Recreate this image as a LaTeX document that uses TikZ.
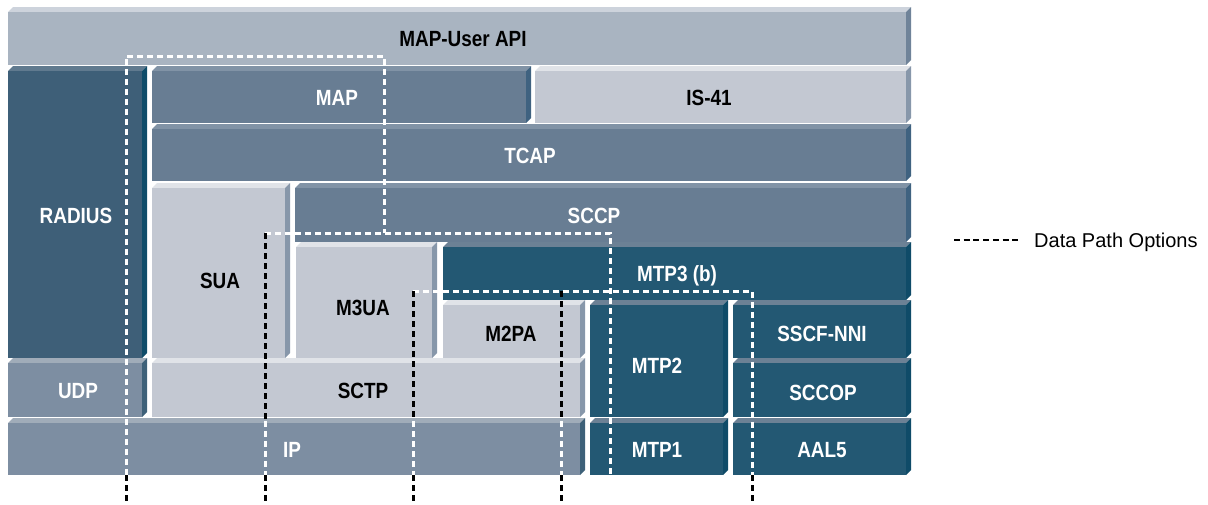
\documentclass[tikz,border=0pt]{standalone}
\usepackage{fontspec}
\setmainfont{Liberation Sans}
\newfontfamily\layerfont[FakeStretch=0.86]{Liberation Sans}

% face / top bevel / side colours of the protocol layers
\definecolor{apiFace}{HTML}{A9B4C1}
\definecolor{apiTop}{HTML}{CDD3DC}
\definecolor{apiSide}{HTML}{6F8399}
\definecolor{radFace}{HTML}{3E5F78}
\definecolor{radTop}{HTML}{607A8F}
\definecolor{radSide}{HTML}{0F4C69}
\definecolor{midFace}{HTML}{687D93}
\definecolor{midTop}{HTML}{8193A6}
\definecolor{midSide}{HTML}{3F6280}
\definecolor{litFace}{HTML}{C3C8D2}
\definecolor{litTop}{HTML}{E0E3E8}
\definecolor{litSide}{HTML}{8797AA}
\definecolor{ipFace}{HTML}{7D8EA2}
\definecolor{ipTop}{HTML}{A0ACB9}
\definecolor{ipSide}{HTML}{3E6179}
\definecolor{mtpFace}{HTML}{235873}
\definecolor{mtpTop}{HTML}{6C8195}
\definecolor{mtpSide}{HTML}{0F4B68}

\tikzset{
  apitop/.style={fill=apiTop}, apiside/.style={fill=apiSide}, apiface/.style={fill=apiFace},
  apitext/.style={text=black},
  radtop/.style={fill=radTop}, radside/.style={fill=radSide}, radface/.style={fill=radFace},
  radtext/.style={text=white},
  midtop/.style={fill=midTop}, midside/.style={fill=midSide}, midface/.style={fill=midFace},
  midtext/.style={text=white},
  littop/.style={fill=litTop}, litside/.style={fill=litSide}, litface/.style={fill=litFace},
  littext/.style={text=black},
  iptop/.style={fill=ipTop}, ipside/.style={fill=ipSide}, ipface/.style={fill=ipFace},
  iptext/.style={text=white},
  mtptop/.style={fill=mtpTop}, mtpside/.style={fill=mtpSide}, mtpface/.style={fill=mtpFace},
  mtptext/.style={text=white},
  layerlabel/.style={inner sep=0pt, anchor=base,
    font=\layerfont\bfseries\fontsize{22}{22}\selectfont},
  pathwhite/.style={draw=white, line width=3pt, dash pattern=on 6pt off 4pt},
  pathblack/.style={draw=black, line width=3pt, dash pattern=on 6pt off 4pt},
}

% extruded layer: #1 name, #2 colour set, #3..#6 front face x1,y1,x2,y2,
% #7,#8 label centre, #9 label
\newcommand\layerbox[9]{%
  \fill[#2top] (#3,#4) -- ++(5,-5) -- ({#5+5},{#4-5}) -- (#5,#4) -- cycle;
  \fill[#2side] (#5,#4) -- ({#5+5},{#4-5}) -- ({#5+5},{#6-5}) -- (#5,#6) -- cycle;
  \fill[#2face] (#3,#4) rectangle (#5,#6);
  \node[layerlabel, #2text] (#1) at (#7,{#8+8}) {#9};
}

\begin{document}
\begin{tikzpicture}[x=1pt,y=-1pt]
\useasboundingbox[fill=white] (0,0) rectangle (1208,504);

% protocol stack
\layerbox{api}{api}{8}{12}{906}{65}{463}{38}{MAP-User API}
\layerbox{radius}{rad}{8}{71}{142}{358}{76}{215}{RADIUS}
\layerbox{map}{mid}{152}{71}{526}{123}{337}{97}{MAP}
\layerbox{is41}{lit}{535}{71}{906}{123}{709}{97}{IS-41}
\layerbox{tcap}{mid}{152}{129}{906}{181}{530}{155}{TCAP}
\layerbox{sua}{lit}{152}{188}{285}{358}{220}{280}{SUA}
\layerbox{sccp}{mid}{295}{188}{906}{242}{594}{215}{SCCP}
\layerbox{m3ua}{lit}{296}{247}{432}{358}{363}{307}{M3UA}
\layerbox{mtp3}{mtp}{443}{247}{906}{300}{677}{273}{MTP3 (b)}
\layerbox{m2pa}{lit}{443}{305}{580}{358}{511}{333}{M2PA}
\layerbox{mtp2}{mtp}{590}{305}{723}{417}{657}{365}{MTP2}
\layerbox{sscf}{mtp}{733}{305}{906}{358}{822}{333}{SSCF-NNI}
\layerbox{udp}{ip}{8}{363}{142}{417}{78}{390}{UDP}
\layerbox{sctp}{lit}{152}{363}{580}{417}{363}{390}{SCTP}
\layerbox{sccop}{mtp}{733}{363}{906}{417}{823}{392}{SCCOP}
\layerbox{ip}{ip}{8}{423}{580}{475}{292}{449}{IP}
\layerbox{mtp1}{mtp}{590}{423}{723}{475}{657}{449}{MTP1}
\layerbox{aal5}{mtp}{733}{423}{906}{475}{822}{449}{AAL5}

% data path corners
\coordinate (a0) at (126,504); \coordinate (a1) at (126,56);
\coordinate (a2) at (384,56);  \coordinate (a3) at (384,233);
\coordinate (b0) at (265,504); \coordinate (b1) at (265,233);
\coordinate (e1) at (610,233); \coordinate (e0) at (610,475);
\coordinate (c0) at (413,504); \coordinate (c1) at (413,291);
\coordinate (d0) at (561,504); \coordinate (d1) at (561,291);
\coordinate (f1) at (752,291); \coordinate (f0) at (752,504);

% data paths: white over dark layers, black over light layers
\draw[pathwhite] (a0 |- e0) -- (a1) -- (a2) -- (a3);
\draw[pathblack] (a0 |- e0) -- (a0);
\draw[pathwhite] (b1) -- (e1) -- (e0);
\draw[pathblack] (b1) -- (265,421);
\draw[pathwhite] (265,421) -- (b0 |- e0);
\draw[pathblack] (b0 |- e0) -- (b0);
\draw[pathwhite] (c1) -- (f1) -- (f0 |- e0);
\draw[pathblack] (f0 |- e0) -- (f0);
\draw[pathblack] (c1) -- (413,421);
\draw[pathwhite] (413,421) -- (c0 |- e0);
\draw[pathblack] (c0 |- e0) -- (c0);
\draw[pathblack] (d1) -- (561,421);
\draw[pathwhite] (561,421) -- (d0 |- e0);
\draw[pathblack] (d0 |- e0) -- (d0);

% legend
\coordinate (legA) at (954,240);
\coordinate (legB) at (1021,240);
\draw[draw=black, line width=2.8pt, dash pattern=on 6pt off 3.7pt] (legA) -- (legB);
\node[anchor=base west, inner sep=0pt, font=\fontsize{20}{20}\selectfont]
  (legend) at (1034,247) {Data Path Options};
\end{tikzpicture}
\end{document}
